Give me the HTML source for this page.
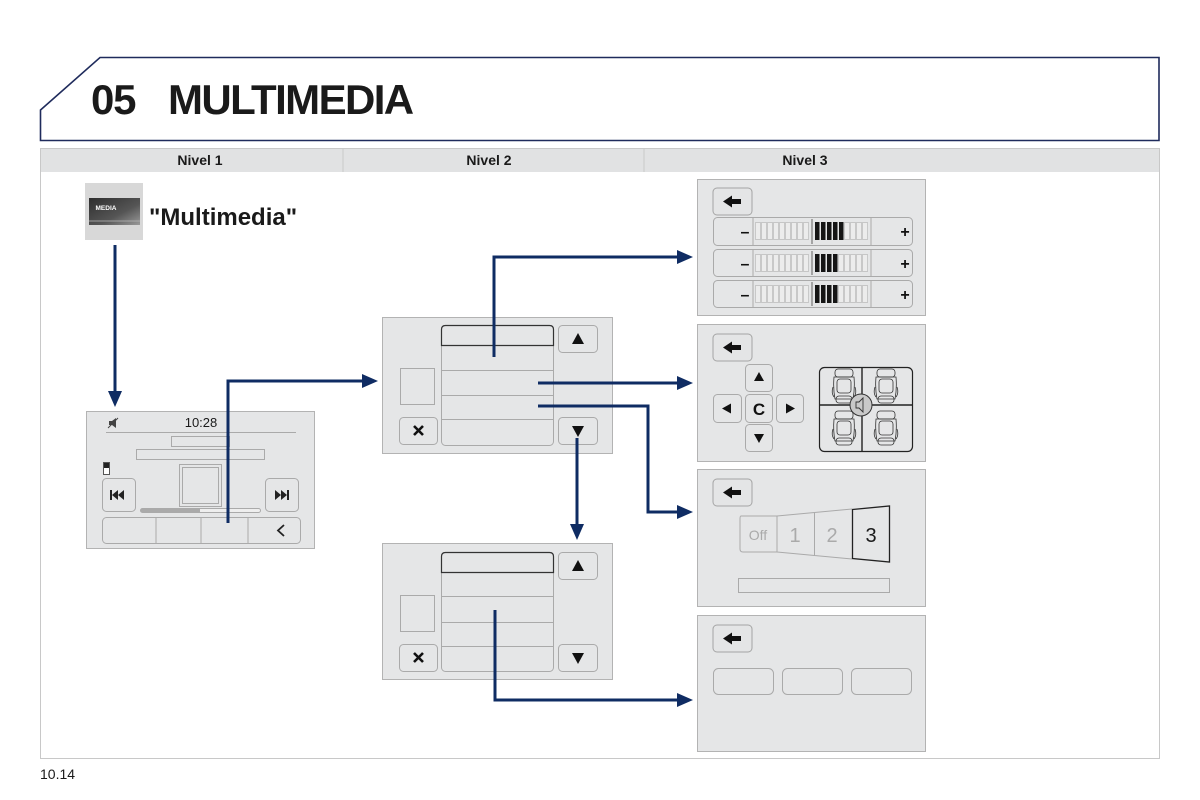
<!DOCTYPE html>
<html><head><meta charset="utf-8"><style>
html,body{margin:0;padding:0;background:#fff;}
svg{display:block;font-family:"Liberation Sans",Arial,sans-serif;}
</style></head><body>
<svg width="1200" height="800" viewBox="0 0 1200 800" xmlns="http://www.w3.org/2000/svg">
<defs>
<linearGradient id="mg" x1="0" y1="0" x2="1" y2="1">
<stop offset="0" stop-color="#2e2e2e"/><stop offset="0.6" stop-color="#555"/><stop offset="1" stop-color="#9a9a9a"/>
</linearGradient>
<g id="back"><rect x="0" y="0" width="39" height="27" rx="4" fill="#e4e5e6" stroke="#a4a4a4" stroke-width="1"/>
<polygon points="10,13.5 19,7.5 19,11 28,11 28,16 19,16 19,19.5" fill="#111"/></g>
<g id="seat" fill="none" stroke="#333" stroke-width="0.8">
<rect x="2" y="0" width="18" height="8" rx="3"/>
<path d="M1,8 Q0,20 2,30 L20,30 Q22,20 21,8 Z"/>
<rect x="4" y="10" width="14" height="14" rx="3"/>
<path d="M0,18 Q-2,24 1,28 M22,18 Q24,24 21,28"/>
<rect x="3" y="27" width="16" height="7" rx="3"/>
</g>
</defs>

<!-- Title box -->
<path d="M100,57.5 L1159,57.5 L1159,140.5 L40.5,140.5 L40.5,110 Z" fill="#fff" stroke="#1f2b5c" stroke-width="1.6"/>
<text x="91" y="114" font-size="42" font-weight="bold" fill="#1a1a1a" letter-spacing="-1.2">05</text>
<text x="168" y="114" font-size="42" font-weight="bold" fill="#1a1a1a" letter-spacing="-1.6">MULTIMEDIA</text>

<!-- Table -->
<rect x="40.5" y="148.5" width="1119" height="610" fill="#fff" stroke="#c8c8c8" stroke-width="1"/>
<rect x="41" y="149" width="1118" height="23" fill="#e1e2e3"/>
<line x1="343" y1="149" x2="343" y2="172" stroke="#c9c9c9"/>
<line x1="644" y1="149" x2="644" y2="172" stroke="#c9c9c9"/>
<text x="200" y="165" font-size="14" font-weight="bold" fill="#1a1a1a" text-anchor="middle">Nivel 1</text>
<text x="489" y="165" font-size="14" font-weight="bold" fill="#1a1a1a" text-anchor="middle">Nivel 2</text>
<text x="805" y="165" font-size="14" font-weight="bold" fill="#1a1a1a" text-anchor="middle">Nivel 3</text>

<text x="40" y="779" font-size="14" fill="#1a1a1a">10.14</text>

<!-- MEDIA button -->
<rect x="85" y="183" width="58" height="57" fill="#d8d8d8"/>
<rect x="89" y="198" width="51" height="27" fill="url(#mg)"/>
<line x1="89" y1="221" x2="140" y2="221" stroke="#bbb" stroke-width="0.8"/>
<text x="106" y="210" font-size="6.5" font-weight="bold" fill="#fff" text-anchor="middle">MEDIA</text>
<text x="149" y="225" font-size="24" font-weight="bold" fill="#1a1a1a">"Multimedia"</text>

<!-- Screen 1 -->
<rect x="86.5" y="411.5" width="228" height="137" fill="#e5e6e7" stroke="#b3b3b3"/>
<g stroke="#444" stroke-width="1" fill="#444">
<path d="M109,421 L112,421 L116,418 L116,428 L112,425 L109,425 Z" stroke="none"/>
<line x1="108" y1="428" x2="118" y2="418"/>
</g>
<text x="201" y="427" font-size="13" fill="#1a1a1a" text-anchor="middle">10:28</text>
<line x1="106" y1="432.5" x2="296" y2="432.5" stroke="#aaa"/>
<rect x="171.5" y="436.5" width="58" height="10" fill="#e5e6e7" stroke="#aaa"/>
<rect x="136.5" y="449.5" width="128" height="10" fill="#e5e6e7" stroke="#aaa"/>
<rect x="103.5" y="462.5" width="6" height="12" fill="#fff" stroke="#555"/>
<rect x="104" y="463" width="5" height="5" fill="#222"/>
<rect x="102.5" y="478.5" width="33" height="33" rx="4" fill="#e5e6e7" stroke="#aaa"/>
<polygon points="112,495 118,490 118,500" fill="#222"/><polygon points="118,495 124,490 124,500" fill="#222"/><rect x="110" y="490" width="2" height="10" fill="#222"/>
<rect x="179.5" y="464.5" width="42" height="42" fill="#e5e6e7" stroke="#aaa"/>
<rect x="182.5" y="467.5" width="36" height="36" fill="none" stroke="#aaa"/>
<rect x="265.5" y="478.5" width="33" height="33" rx="4" fill="#e5e6e7" stroke="#aaa"/>
<polygon points="275,490 281,495 275,500" fill="#222"/><polygon points="281,490 287,495 281,500" fill="#222"/><rect x="287" y="490" width="2" height="10" fill="#222"/>
<rect x="140.5" y="508.5" width="120" height="4" rx="2" fill="#eee" stroke="#aaa"/>
<rect x="141" y="509" width="59" height="3" fill="#aaa"/>
<rect x="102.5" y="517.5" width="198" height="26" rx="4" fill="#e5e6e7" stroke="#aaa"/>
<line x1="156" y1="518" x2="156" y2="543" stroke="#aaa"/>
<line x1="201" y1="518" x2="201" y2="543" stroke="#aaa"/>
<line x1="248" y1="518" x2="248" y2="543" stroke="#aaa"/>
<path d="M284,525 L278,530.5 L284,536" fill="none" stroke="#222" stroke-width="1.8"/>

<!-- Screen 2a -->
<rect x="382.5" y="317.5" width="230" height="136" fill="#e5e6e7" stroke="#b3b3b3"/>
<rect x="441.5" y="325.5" width="112" height="120" rx="4" fill="#e5e6e7" stroke="#aaa"/>
<path d="M441.5,345.5 L441.5,329.5 Q441.5,325.5 445.5,325.5 L549.5,325.5 Q553.5,325.5 553.5,329.5 L553.5,345.5 Z" fill="#e5e6e7" stroke="#333" stroke-width="1.2"/>
<line x1="442" y1="370.5" x2="553" y2="370.5" stroke="#aaa"/>
<line x1="442" y1="395.5" x2="553" y2="395.5" stroke="#aaa"/>
<line x1="442" y1="419.5" x2="553" y2="419.5" stroke="#aaa"/>
<rect x="400.5" y="368.5" width="34" height="36" fill="#e5e6e7" stroke="#aaa"/>
<rect x="558.5" y="325.5" width="39" height="27" rx="4" fill="#e5e6e7" stroke="#aaa"/>
<polygon points="578,333 584,344 572,344" fill="#111"/>
<rect x="399.5" y="417.5" width="38" height="27" rx="4" fill="#e5e6e7" stroke="#aaa"/>
<path d="M414,426 L423,435 M423,426 L414,435" stroke="#111" stroke-width="2.6"/>
<rect x="558.5" y="417.5" width="39" height="27" rx="4" fill="#e5e6e7" stroke="#aaa"/>
<polygon points="572,426 584,426 578,437" fill="#111"/>

<!-- Screen 2b -->
<rect x="382.5" y="543.5" width="230" height="136" fill="#e5e6e7" stroke="#b3b3b3"/>
<rect x="441.5" y="552.5" width="112" height="119" rx="4" fill="#e5e6e7" stroke="#aaa"/>
<path d="M441.5,572.5 L441.5,556.5 Q441.5,552.5 445.5,552.5 L549.5,552.5 Q553.5,552.5 553.5,556.5 L553.5,572.5 Z" fill="#e5e6e7" stroke="#333" stroke-width="1.2"/>
<line x1="442" y1="596.5" x2="553" y2="596.5" stroke="#aaa"/>
<line x1="442" y1="622.5" x2="553" y2="622.5" stroke="#aaa"/>
<line x1="442" y1="646.5" x2="553" y2="646.5" stroke="#aaa"/>
<rect x="400.5" y="595.5" width="34" height="36" fill="#e5e6e7" stroke="#aaa"/>
<rect x="558.5" y="552.5" width="39" height="27" rx="4" fill="#e5e6e7" stroke="#aaa"/>
<polygon points="578,560 584,571 572,571" fill="#111"/>
<rect x="399.5" y="644.5" width="38" height="27" rx="4" fill="#e5e6e7" stroke="#aaa"/>
<path d="M414,653 L423,662 M423,653 L414,662" stroke="#111" stroke-width="2.6"/>
<rect x="558.5" y="644.5" width="39" height="27" rx="4" fill="#e5e6e7" stroke="#aaa"/>
<polygon points="572,653 584,653 578,664" fill="#111"/>

<!-- Level 3 panel 1 -->
<rect x="697.5" y="179.5" width="228" height="136" fill="#e5e6e7" stroke="#b3b3b3"/>
<use href="#back" x="713" y="188"/>
<g id="rows">
<rect x="713.5" y="217.5" width="199" height="28" rx="4" fill="#e5e6e7" stroke="#aaa"/>
<rect x="713.5" y="249.5" width="199" height="27" rx="4" fill="#e5e6e7" stroke="#aaa"/>
<rect x="713.5" y="280.5" width="199" height="27" rx="4" fill="#e5e6e7" stroke="#aaa"/>
<g stroke="#aaa"><line x1="753" y1="218" x2="753" y2="245"/><line x1="871" y1="218" x2="871" y2="245"/>
<line x1="753" y1="250" x2="753" y2="276"/><line x1="871" y1="250" x2="871" y2="276"/>
<line x1="753" y1="281" x2="753" y2="307"/><line x1="871" y1="281" x2="871" y2="307"/></g>
<g stroke="#888" stroke-width="1.4"><line x1="812" y1="219" x2="812" y2="244"/><line x1="812" y1="251" x2="812" y2="275"/><line x1="812" y1="282" x2="812" y2="306"/></g>
</g>
<g font-size="16" font-weight="bold" fill="#111" text-anchor="middle">
<text x="745" y="237">–</text><text x="905" y="237">+</text>
<text x="745" y="269">–</text><text x="905" y="269">+</text>
<text x="745" y="300">–</text><text x="905" y="300">+</text>
</g>
<g fill="#ececec" stroke="#bbb" stroke-width="0.7">
<!-- light cells rows -->
<path d="M755.5,222.5h5v17h-5z M761.5,222.5h5v17h-5z M767.5,222.5h5v17h-5z M773.5,222.5h5v17h-5z M779.5,222.5h5v17h-5z M785.5,222.5h5v17h-5z M791.5,222.5h5v17h-5z M797.5,222.5h5v17h-5z M803.5,222.5h5v17h-5z M844.5,222.5h5v17h-5z M850.5,222.5h5v17h-5z M856.5,222.5h5v17h-5z M862.5,222.5h5v17h-5z"/>
<path d="M755.5,254.5h5v17h-5z M761.5,254.5h5v17h-5z M767.5,254.5h5v17h-5z M773.5,254.5h5v17h-5z M779.5,254.5h5v17h-5z M785.5,254.5h5v17h-5z M791.5,254.5h5v17h-5z M797.5,254.5h5v17h-5z M803.5,254.5h5v17h-5z M838.5,254.5h5v17h-5z M844.5,254.5h5v17h-5z M850.5,254.5h5v17h-5z M856.5,254.5h5v17h-5z M862.5,254.5h5v17h-5z"/>
<path d="M755.5,285.5h5v17h-5z M761.5,285.5h5v17h-5z M767.5,285.5h5v17h-5z M773.5,285.5h5v17h-5z M779.5,285.5h5v17h-5z M785.5,285.5h5v17h-5z M791.5,285.5h5v17h-5z M797.5,285.5h5v17h-5z M803.5,285.5h5v17h-5z M838.5,285.5h5v17h-5z M844.5,285.5h5v17h-5z M850.5,285.5h5v17h-5z M856.5,285.5h5v17h-5z M862.5,285.5h5v17h-5z"/>
</g>
<g fill="#151515">
<rect x="815" y="222" width="4.5" height="18"/><rect x="821" y="222" width="4.5" height="18"/><rect x="827" y="222" width="4.5" height="18"/><rect x="833" y="222" width="4.5" height="18"/><rect x="839" y="222" width="4.5" height="18"/>
<rect x="815" y="254" width="4.5" height="18"/><rect x="821" y="254" width="4.5" height="18"/><rect x="827" y="254" width="4.5" height="18"/><rect x="833" y="254" width="4.5" height="18"/>
<rect x="815" y="285" width="4.5" height="18"/><rect x="821" y="285" width="4.5" height="18"/><rect x="827" y="285" width="4.5" height="18"/><rect x="833" y="285" width="4.5" height="18"/>
</g>

<!-- Level 3 panel 2 -->
<rect x="697.5" y="324.5" width="228" height="137" fill="#e5e6e7" stroke="#b3b3b3"/>
<use href="#back" x="713" y="334"/>
<g fill="#e5e6e7" stroke="#aaa">
<rect x="745.5" y="364.5" width="27" height="27" rx="4"/>
<rect x="713.5" y="394.5" width="28" height="28" rx="4"/>
<rect x="745.5" y="394.5" width="27" height="28" rx="4"/>
<rect x="776.5" y="394.5" width="27" height="28" rx="4"/>
<rect x="745.5" y="424.5" width="27" height="27" rx="4"/>
</g>
<polygon points="759,372 764,381 754,381" fill="#111"/>
<polygon points="722,408.5 731,403.5 731,413.5" fill="#111"/>
<polygon points="795,408.5 786,403.5 786,413.5" fill="#111"/>
<polygon points="754,434 764,434 759,443" fill="#111"/>
<text x="759" y="415" font-size="17" font-weight="bold" fill="#111" text-anchor="middle">C</text>
<rect x="819.5" y="367.5" width="93" height="84" rx="5" fill="#e5e6e7" stroke="#222" stroke-width="1.2"/>
<line x1="862" y1="368" x2="862" y2="451" stroke="#222" stroke-width="1.4"/>
<line x1="820" y1="405" x2="912" y2="405" stroke="#222" stroke-width="1.4"/>
<use href="#seat" x="833" y="369"/>
<use href="#seat" x="875" y="369"/>
<use href="#seat" x="833" y="411"/>
<use href="#seat" x="875" y="411"/>
<circle cx="861" cy="405" r="11" fill="#c9c9c9" stroke="#333" stroke-width="1"/>
<path d="M856,402 L859,402 L863,398 L863,412 L859,408 L856,408 Z" fill="none" stroke="#333" stroke-width="0.9"/>

<!-- Level 3 panel 3 -->
<rect x="697.5" y="469.5" width="228" height="137" fill="#e5e6e7" stroke="#b3b3b3"/>
<use href="#back" x="713" y="479"/>
<path d="M777,516 L741,516 Q740,516 740,519 L740,549 Q740,552 743,552 L777,552" fill="#e5e6e7" stroke="#aaa"/>
<path d="M777,516 L852,509 M777,552 L852,559 M777,516 L777,552 M814.5,513 L814.5,555.5" fill="none" stroke="#aaa"/>
<polygon points="852.5,509.5 889.5,506 889.5,562 852.5,558.5" fill="#e5e6e7" stroke="#222" stroke-width="1.3"/>
<text x="758" y="540" font-size="14" fill="#aaa" text-anchor="middle">Off</text>
<text x="795" y="542" font-size="20" fill="#aaa" text-anchor="middle">1</text>
<text x="832" y="542" font-size="20" fill="#aaa" text-anchor="middle">2</text>
<text x="871" y="542" font-size="20" fill="#1a1a1a" text-anchor="middle">3</text>
<rect x="738.5" y="578.5" width="151" height="14" fill="#e5e6e7" stroke="#aaa"/>

<!-- Level 3 panel 4 -->
<rect x="697.5" y="615.5" width="228" height="136" fill="#e5e6e7" stroke="#b3b3b3"/>
<use href="#back" x="713" y="625"/>
<g fill="#e5e6e7" stroke="#aaa">
<rect x="713.5" y="668.5" width="60" height="26" rx="5"/>
<rect x="782.5" y="668.5" width="60" height="26" rx="5"/>
<rect x="851.5" y="668.5" width="60" height="26" rx="5"/>
</g>

<!-- Arrows -->
<g fill="none" stroke="#0f2c63" stroke-width="3">
<line x1="115" y1="245" x2="115" y2="393"/>
<polyline points="228,523 228,381 363,381"/>
<polyline points="494,357 494,257 678,257"/>
<line x1="538" y1="383" x2="678" y2="383"/>
<polyline points="538,406 648,406 648,512 678,512"/>
<line x1="577" y1="438" x2="577" y2="525"/>
<polyline points="495,610 495,700 678,700"/>
</g>
<g fill="#0f2c63">
<polygon points="108,391 122,391 115,407"/>
<polygon points="362,374 362,388 378,381"/>
<polygon points="677,250 677,264 693,257"/>
<polygon points="677,376 677,390 693,383"/>
<polygon points="677,505 677,519 693,512"/>
<polygon points="570,524 584,524 577,540"/>
<polygon points="677,693 677,707 693,700"/>
</g>
</svg>
</body></html>
